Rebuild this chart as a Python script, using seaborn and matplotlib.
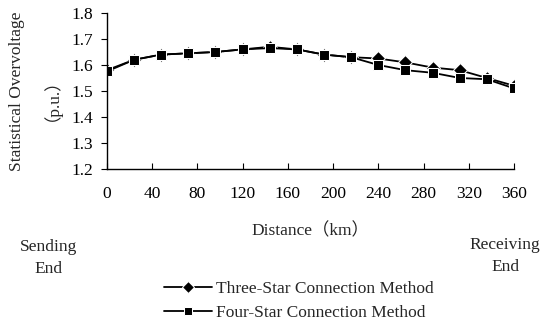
import numpy as np
import pandas as pd
import matplotlib
matplotlib.use("Agg")
import matplotlib.pyplot as plt
import seaborn as sns

distance = [0, 24, 48, 72, 96, 120, 144, 168, 192, 216, 240, 264, 288, 312, 336, 360]
three_star = [1.58, 1.62, 1.64, 1.645, 1.65, 1.66, 1.67, 1.66, 1.64, 1.63,
              1.625, 1.61, 1.59, 1.58, 1.55, 1.52]
four_star = [1.575, 1.62, 1.64, 1.645, 1.65, 1.66, 1.665, 1.66, 1.64, 1.63,
             1.60, 1.58, 1.57, 1.55, 1.545, 1.51]
labels = ["Three-Star Connection Method", "Four-Star Connection Method"]

df = pd.DataFrame({
    "Distance": distance * 2,
    "Overvoltage": three_star + four_star,
    "Method": [labels[0]] * len(distance) + [labels[1]] * len(distance),
})

sns.set_style("ticks")
plt.rcParams['font.family'] = ['Liberation Serif', 'Noto Sans CJK SC']
fs = 12.5

fig = plt.figure(figsize=(5.48, 3.26), dpi=100)
ax = fig.add_axes([0.195, 0.482, 0.743, 0.478])

sns.lineplot(data=df, x="Distance", y="Overvoltage", hue="Method", style="Method",
             palette=["black", "black"], markers={labels[0]: "D", labels[1]: "s"},
             dashes=False, markersize=7.5, linewidth=1.3, ax=ax, legend=True)

ax.set_xlim(0, 360)
ax.set_ylim(1.2, 1.8)
ax.set_xticks(np.arange(0, 361, 40))
ax.set_yticks(np.arange(1.2, 1.81, 0.1))
ax.set_yticklabels([f"{v:.1f}" for v in np.arange(1.2, 1.81, 0.1)])
ax.tick_params(axis="x", direction="in", length=4, labelsize=fs, pad=12, colors="black")
ax.tick_params(axis="y", direction="out", length=4, labelsize=fs, pad=6, colors="black")
for s in ["top", "right"]:
    ax.spines[s].set_visible(False)
for s in ["left", "bottom"]:
    ax.spines[s].set_color("black")
    ax.spines[s].set_linewidth(1.0)

ax.set_xlabel("Distance（km）", fontsize=fs, labelpad=15)
ax.set_ylabel("Statistical Overvoltage\n（p.u.）", fontsize=fs, labelpad=14, linespacing=1.5)

fig.text(0.088, 0.21, "Sending\nEnd", ha="center", va="center", fontsize=fs, linespacing=1.5)
fig.text(0.922, 0.215, "Receiving\nEnd", ha="center", va="center", fontsize=fs, linespacing=1.5)

ax.legend(loc="upper center", bbox_to_anchor=(0.545, 0.185), bbox_transform=fig.transFigure,
          frameon=False, fontsize=fs, handlelength=2.8, handletextpad=0.2, labelspacing=0.45,
          markerscale=0.8)

fig.savefig("out.png", dpi=100)
